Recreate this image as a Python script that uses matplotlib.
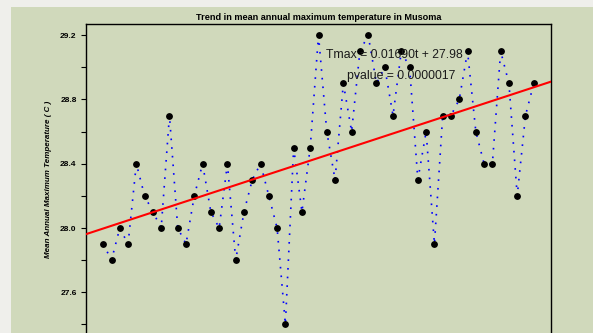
import numpy as np
import matplotlib
matplotlib.use("Agg")
import matplotlib.pyplot as plt
from matplotlib.patches import Rectangle

# ---- data ----
t = list(range(1, 54))
tmax = [27.9, 27.8, 28.0, 27.9, 28.4, 28.2, 28.1, 28.0, 28.7, 28.0,
        27.9, 28.2, 28.4, 28.1, 28.0, 28.4, 27.8, 28.1, 28.3, 28.4,
        28.2, 28.0, 27.4, 28.5, 28.1, 28.5, 29.2, 28.6, 28.3, 28.9,
        28.6, 29.1, 29.2, 28.9, 29.0, 28.7, 29.1, 29.0, 28.3, 28.6,
        27.9, 28.7, 28.7, 28.8, 29.1, 28.6, 28.4, 28.4, 29.1, 28.9,
        28.2, 28.7, 28.9]
slope = 0.01690
intercept = 27.98
title = "Trend in mean annual maximum temperature in Musoma"
ylabel = "Mean Annual Maximum Temperature ( C )"
eq_text = "Tmax = 0.01690t + 27.98"
p_text = "pvalue = 0.0000017"
yticks = [27.4, 27.6, 27.8, 28.0, 28.2, 28.4, 28.6, 28.8, 29.0, 29.2]
ytick_labels = ["", "27.6", "", "28.0", "", "28.4", "", "28.8", "", "29.2"]

W, H = 593, 333
plt.rcParams['font.family'] = ['Liberation Sans', 'DejaVu Sans']
fig = plt.figure(figsize=(W / 100, H / 100), dpi=100)
fig.patch.set_facecolor("#EFEFEB")
green = "#D0D9BB"
fig.patches.append(Rectangle((11 / W, 0), 1 - 11 / W, 1 - 7 / H,
                             transform=fig.transFigure, facecolor=green,
                             edgecolor="none", zorder=-5))

left, right = 86 / W, 551 / W
top = 1 - 23.6 / H
bottom = 1 - 336 / H
ax = fig.add_axes([left, bottom, right - left, top - bottom])
ax.set_zorder(2)
ax.set_facecolor(green)

x = np.array(t, dtype=float)
y = np.array(tmax)
xr = x.max() - x.min()
yr = y.max() - y.min()
xlim = (x.min() - 0.04 * xr, x.max() + 0.04 * xr)
ylim = (y.min() - 0.04 * yr, y.max() + 0.04 * yr)

ax.plot(x, y, color="#0000FF", lw=1.2, dashes=[1, 4.2], zorder=2)
ax.plot(x, y, linestyle="none", marker="o", ms=3.9, color="black", zorder=3)
xx = np.array(xlim)
ax.plot(xx, intercept + slope * xx, color="#FF0000", lw=1.5, zorder=4)

ax.set_xlim(*xlim)
ax.set_ylim(*ylim)

ax.set_yticks(yticks)
ax.set_yticklabels(ytick_labels, fontsize=6, fontweight="bold")
ax.tick_params(axis="y", direction="out", length=3.8, width=0.8, pad=3)
ax.set_xticks([])
for s in ax.spines.values():
    s.set_linewidth(1.0)
    s.set_color("black")

ax.set_title(title, fontsize=6.6, fontweight="bold", pad=2.5)
ax.set_ylabel(ylabel, fontsize=5.8, fontweight="bold", style="italic")
ax.yaxis.set_label_coords(-0.073, 0.5)

ax.text(36.2, 29.077, eq_text, fontsize=8.8, ha="center", va="center",
        color="#1a1a1a", zorder=5)
ax.text(37.0, 28.946, p_text, fontsize=8.8, ha="center", va="center",
        color="#1a1a1a", zorder=5)

fig.savefig("out.png", dpi=100, facecolor=fig.get_facecolor())
